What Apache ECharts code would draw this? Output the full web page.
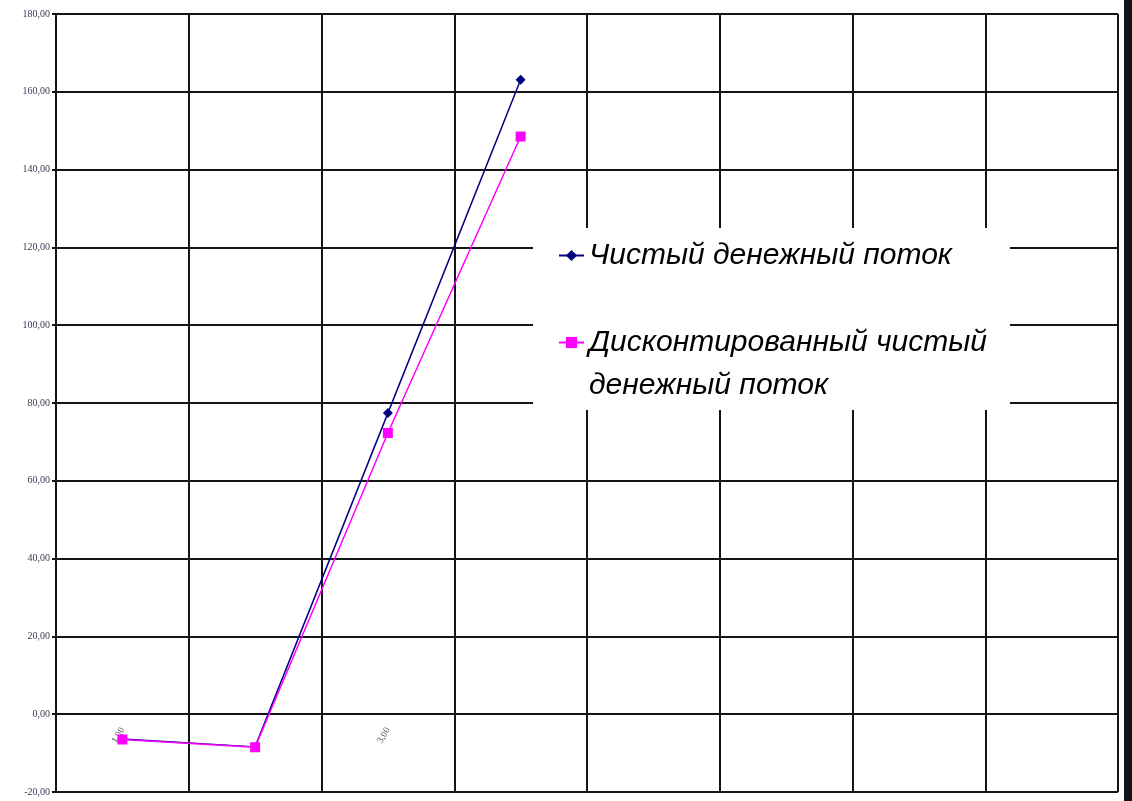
<!DOCTYPE html>
<html>
<head>
<meta charset="utf-8">
<script src="https://cdn.jsdelivr.net/npm/echarts@6/dist/echarts.min.js"></script>
<style>
  html, body { margin: 0; padding: 0; background: #11121c; }
  #chart { width: 1124px; height: 801px; background: #ffffff; }
</style>
</head>
<body>
<div id="chart"></div>
<script>
// ---- data ----
const categories = ['1', '2', '3', '4', '5', '6', '7', '8'];
const xTickLabels = ['1,00', '', '3,00', '', '', '', '', ''];
const netCashFlow = [-6.4, -8.4, 77.4, 163.1];
const discountedNetCashFlow = [-6.5, -8.5, 72.3, 148.5];
const seriesNames = ['Чистый денежный поток', 'Дисконтированный чистый денежный поток'];
const legendLabels = ['Чистый денежный поток', '\nДисконтированный чистый\nденежный поток'];
const yMin = -20, yMax = 180, yStep = 20;

const chart = echarts.init(document.getElementById('chart'), null, { renderer: 'canvas' });

const gridTop = 14, gridBottom = 9, chartHeight = 801;
const plotHeight = chartHeight - gridTop - gridBottom;
// distance of the zero line above the bottom edge of the plot
const zeroOffset = plotHeight * (0 - yMin) / (yMax - yMin);
const gridColor = '#151515';

const option = {
  backgroundColor: '#ffffff',
  animation: false,
  grid: { left: 56, right: 6, top: gridTop, bottom: gridBottom, containLabel: false, outerBoundsMode: 'none' },
  legend: {
    orient: 'vertical',
    left: 533,
    top: 228,
    padding: [6, 23, 3, 25],
    backgroundColor: '#ffffff',
    itemWidth: 25,
    itemHeight: 14,
    itemGap: 1,
    textStyle: {
      fontFamily: 'Liberation Sans, Arial, sans-serif',
      fontStyle: 'italic',
      fontSize: 30,
      lineHeight: 43,
      color: '#000000'
    },
    formatter: function (name) {
      return legendLabels[seriesNames.indexOf(name)];
    },
    data: seriesNames
  },
  xAxis: {
    type: 'category',
    data: categories,
    boundaryGap: true,
    position: 'bottom',
    offset: -zeroOffset,
    axisLine: { show: true, onZero: false, lineStyle: { color: gridColor, width: 2 } },
    axisTick: { show: false, interval: 0 },
    axisLabel: {
      interval: 0,
      rotate: 60,
      margin: 14,
      fontFamily: 'Liberation Serif, Times New Roman, serif',
      fontSize: 9.5,
      color: '#555555',
      formatter: function (v, i) { return xTickLabels[i]; }
    },
    splitLine: { show: true, interval: 0, lineStyle: { color: gridColor, width: 2 } }
  },
  yAxis: {
    type: 'value',
    min: yMin,
    max: yMax,
    interval: yStep,
    axisLine: { show: true, lineStyle: { color: gridColor, width: 2 } },
    axisTick: { show: true, length: 4, lineStyle: { color: gridColor, width: 2 } },
    axisLabel: {
      margin: 6,
      fontFamily: 'Liberation Serif, Times New Roman, serif',
      fontSize: 10,
      color: '#3a3a55',
      formatter: function (v) { return v.toFixed(2).replace('.', ','); }
    },
    splitLine: { show: true, lineStyle: { color: gridColor, width: 2 } }
  },
  series: [
    {
      name: seriesNames[0],
      type: 'line',
      data: netCashFlow,
      symbol: 'diamond',
      symbolSize: 10,
      itemStyle: { color: '#000080' },
      lineStyle: { color: '#000080', width: 1.5 },
      z: 3
    },
    {
      name: seriesNames[1],
      type: 'line',
      data: discountedNetCashFlow,
      symbol: 'rect',
      symbolSize: 10,
      itemStyle: { color: '#ff00ff' },
      lineStyle: { color: '#ff00ff', width: 1.5 },
      z: 4
    }
  ]
};
chart.setOption(option);
</script>
</body>
</html>
